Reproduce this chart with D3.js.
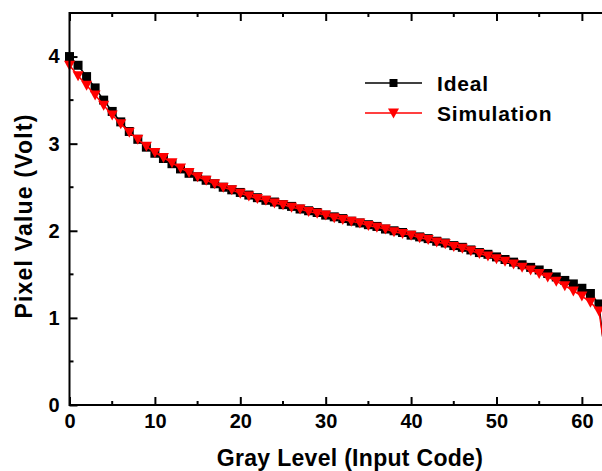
<!DOCTYPE html>
<html><head><meta charset="utf-8">
<script src="https://cdn.jsdelivr.net/npm/d3@7"></script>
<style>body{margin:0;background:#fff}svg{display:block}text{font-family:"Liberation Sans",Arial,sans-serif;font-weight:bold}</style>
</head><body><div id="chart"></div>
<script>
const grayLevels = d3.range(0, 64);
const idealValues = [4.00,3.90,3.77,3.64,3.50,3.37,3.25,3.14,3.05,2.96,2.89,2.83,2.77,2.71,2.66,2.62,2.58,2.54,2.50,2.47,2.44,2.41,2.38,2.35,2.33,2.30,2.28,2.25,2.23,2.21,2.18,2.16,2.14,2.11,2.09,2.07,2.05,2.02,2.00,1.98,1.95,1.93,1.91,1.88,1.86,1.83,1.81,1.78,1.75,1.73,1.70,1.67,1.64,1.61,1.58,1.55,1.51,1.47,1.43,1.39,1.34,1.28,1.16,0.30];
const simValues = [3.90,3.78,3.67,3.56,3.44,3.33,3.23,3.13,3.05,2.97,2.90,2.84,2.78,2.72,2.67,2.62,2.58,2.54,2.50,2.47,2.43,2.40,2.37,2.35,2.32,2.30,2.27,2.25,2.22,2.20,2.18,2.15,2.13,2.11,2.09,2.06,2.04,2.02,1.99,1.97,1.95,1.92,1.90,1.87,1.85,1.82,1.80,1.77,1.74,1.71,1.68,1.65,1.62,1.58,1.55,1.51,1.47,1.42,1.37,1.31,1.25,1.18,1.08,0.40];
const xTicks = [0,10,20,30,40,50,60];
const yTicks = [0,1,2,3,4];
const seriesNames = ["Ideal","Simulation"];

const W = 602, H = 471;
const m = {left:69.5, top:13, right:607.5, bottom:405};
const svg = d3.select("#chart").append("svg").attr("width",W).attr("height",H);
const x = d3.scaleLinear().domain([0,63]).range([m.left, m.right]);
const y = d3.scaleLinear().domain([0,4.5]).range([m.bottom, m.top]);

const ideal = grayLevels.map((g,i)=>({x:g,y:idealValues[i]}));
const sim = grayLevels.map((g,i)=>({x:g,y:simValues[i]}));
const line = d3.line().x(d=>x(d.x)).y(d=>y(d.y));

// ideal series
svg.append("path").datum(ideal).attr("d",line).attr("fill","none").attr("stroke","#000").attr("stroke-width",1.5);
svg.append("g").selectAll("path").data(ideal).join("path")
  .attr("d", d3.symbol(d3.symbolSquare, 81))
  .attr("transform", d=>`translate(${x(d.x)},${y(d.y)})`).attr("fill","#000");

// simulation series
const tri = "M-5.5,-4.5L5.5,-4.5L0,5.5Z";
svg.append("path").datum(sim).attr("d",line).attr("fill","none").attr("stroke","#ff0000").attr("stroke-width",1.5);
svg.append("g").selectAll("path").data(sim).join("path")
  .attr("d", tri)
  .attr("transform", d=>`translate(${x(d.x)},${y(d.y)})`).attr("fill","#ff0000");

// frame
svg.append("rect").attr("x",m.left).attr("y",m.top).attr("width",m.right-m.left).attr("height",m.bottom-m.top)
  .attr("fill","none").attr("stroke","#000").attr("stroke-width",2);

// x axis (bottom) ticks inward
const xMinor = d3.range(5,65,10);
const gx = svg.append("g").attr("transform",`translate(0,${m.bottom})`)
  .call(d3.axisBottom(x).tickValues(xTicks).tickSize(-8).tickPadding(9).tickFormat(d3.format("d")));
gx.select(".domain").remove();
gx.selectAll(".tick line").attr("stroke-width",2);
gx.selectAll(".tick text").attr("font-size",20).attr("fill","#000");
svg.append("g").selectAll("line").data(xMinor).join("line")
  .attr("x1",d=>x(d)).attr("x2",d=>x(d)).attr("y1",m.bottom).attr("y2",m.bottom-4).attr("stroke","#000").attr("stroke-width",2);
// top axis ticks
const gt = svg.append("g").attr("transform",`translate(0,${m.top})`)
  .call(d3.axisTop(x).tickValues(xTicks).tickSize(-8).tickFormat(""));
gt.select(".domain").remove();
gt.selectAll(".tick line").attr("stroke-width",2);
svg.append("g").selectAll("line").data(xMinor).join("line")
  .attr("x1",d=>x(d)).attr("x2",d=>x(d)).attr("y1",m.top).attr("y2",m.top+4).attr("stroke","#000").attr("stroke-width",2);

// y axis
const gy = svg.append("g").attr("transform",`translate(${m.left},0)`)
  .call(d3.axisLeft(y).tickValues(yTicks).tickSize(-8).tickPadding(10).tickFormat(d3.format("d")));
gy.select(".domain").remove();
gy.selectAll(".tick line").attr("stroke-width",2);
gy.selectAll(".tick text").attr("font-size",20).attr("fill","#000");
svg.append("g").selectAll("line").data([0.5,1.5,2.5,3.5]).join("line")
  .attr("x1",m.left).attr("x2",m.left+4).attr("y1",d=>y(d)).attr("y2",d=>y(d)).attr("stroke","#000").attr("stroke-width",2);

// axis titles
svg.append("text").attr("x",350).attr("y",466).attr("text-anchor","middle").attr("font-size",23).attr("letter-spacing",0.3).text("Gray Level (Input Code)");
svg.append("text").attr("transform","translate(32,216) rotate(-90)").attr("text-anchor","middle").attr("font-size",23).attr("letter-spacing",1.2).text("Pixel Value (Volt)");

// legend
const lg = svg.append("g");
const legY = [83,113];
lg.append("line").attr("x1",365).attr("x2",422).attr("y1",legY[0]).attr("y2",legY[0]).attr("stroke","#000").attr("stroke-width",1.5);
lg.append("path").attr("d",d3.symbol(d3.symbolSquare,64)).attr("transform",`translate(393.5,${legY[0]})`).attr("fill","#000");
lg.append("line").attr("x1",365).attr("x2",422).attr("y1",legY[1]).attr("y2",legY[1]).attr("stroke","#ff0000").attr("stroke-width",1.5);
lg.append("path").attr("d",tri).attr("transform",`translate(393.5,${legY[1]})`).attr("fill","#ff0000");
lg.selectAll("text").data(seriesNames).join("text")
  .attr("x",437).attr("y",(d,i)=>legY[i]+8).attr("font-size",21).attr("letter-spacing",0.8).text(d=>d);
</script></body></html>
